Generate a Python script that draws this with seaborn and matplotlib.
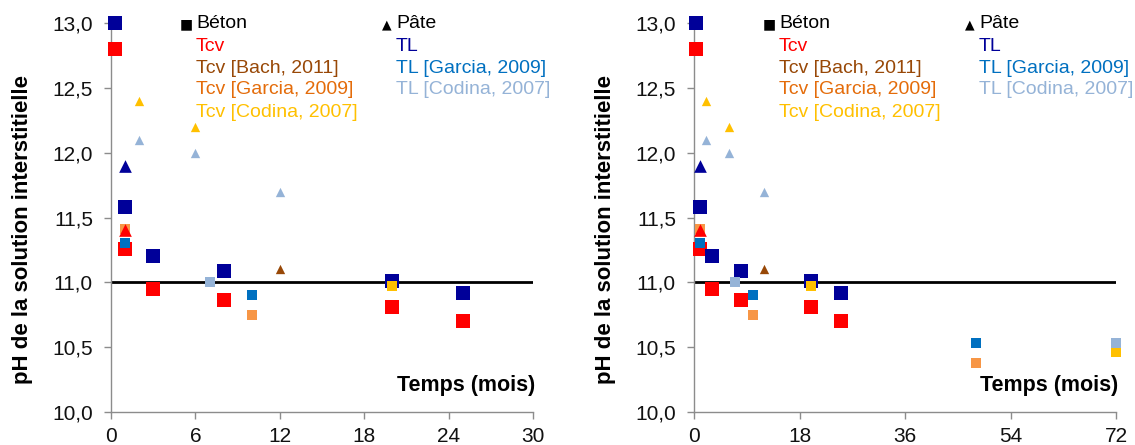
import matplotlib
matplotlib.use('Agg')
import matplotlib.pyplot as plt
import matplotlib.ticker as mticker
import seaborn as sns
import pandas as pd

# temps (mois) / pH
tcv_beton_t = [0.25, 1, 3, 8, 20, 25]
tcv_beton_ph = [12.8, 11.26, 10.95, 10.86, 10.81, 10.70]
tl_beton_t = [0.25, 1, 3, 8, 20, 25]
tl_beton_ph = [13.0, 11.58, 11.2, 11.09, 11.01, 10.92]
tcv_pate_t = [1]
tcv_pate_ph = [11.4]
tl_pate_t = [1]
tl_pate_ph = [11.9]
bach_pate_t = [12]
bach_pate_ph = [11.1]
garcia_tcv_t = [1, 10, 48]
garcia_tcv_ph = [11.41, 10.75, 10.38]
garcia_tl_t = [1, 10, 48]
garcia_tl_ph = [11.3, 10.9, 10.53]
codina_tcv_pate_t = [2, 6]
codina_tcv_pate_ph = [12.4, 12.2]
codina_tcv_beton_t = [20, 72]
codina_tcv_beton_ph = [10.97, 10.46]
codina_tl_pate_t = [2, 6, 12]
codina_tl_pate_ph = [12.1, 12.0, 11.7]
codina_tl_beton_t = [7, 72]
codina_tl_beton_ph = [11.0, 10.53]

RED = '#FF0000'
NAVY = '#000099'
BROWN = '#984807'
ORANGE_TXT = '#E46C0A'
ORANGE = '#F79646'
YELLOW = '#FFC000'
BLUE = '#0070C0'
LBLUE = '#95B3D7'

# (t, ph, marker, size, color) in drawing order
series = [
    (tcv_beton_t, tcv_beton_ph, 's', 92, RED),
    (tl_beton_t, tl_beton_ph, 's', 92, NAVY),
    (garcia_tcv_t, garcia_tcv_ph, 's', 52, ORANGE),
    (garcia_tl_t, garcia_tl_ph, 's', 52, BLUE),
    (codina_tcv_beton_t, codina_tcv_beton_ph, 's', 52, YELLOW),
    (codina_tl_beton_t, codina_tl_beton_ph, 's', 52, LBLUE),
    (tl_pate_t, tl_pate_ph, '^', 83, NAVY),
    (tcv_pate_t, tcv_pate_ph, '^', 83, RED),
    (bach_pate_t, bach_pate_ph, '^', 45, BROWN),
    (codina_tcv_pate_t, codina_tcv_pate_ph, '^', 45, YELLOW),
    (codina_tl_pate_t, codina_tl_pate_ph, '^', 45, LBLUE),
]

sns.set_style('white')
plt.rcParams['font.family'] = ['Liberation Sans', 'DejaVu Sans']
plt.rcParams['axes.unicode_minus'] = False
plt.rcParams['text.color'] = 'black'
plt.rcParams['axes.labelcolor'] = 'black'

fig = plt.figure(figsize=(11.35, 4.45), dpi=100)
ax1 = fig.add_axes([0.0978, 0.0742, 0.372, 0.874])
ax2 = fig.add_axes([0.6115, 0.0742, 0.372, 0.874])

legend_left = [('Tcv', RED), ('Tcv [Bach, 2011]', BROWN), ('Tcv [Garcia, 2009]', ORANGE_TXT),
               ('Tcv [Codina, 2007]', YELLOW)]
legend_right = [('TL', NAVY), ('TL [Garcia, 2009]', BLUE), ('TL [Codina, 2007]', LBLUE)]


def draw(ax, xmax, step):
    ax.axhline(11.0, color='black', lw=2, zorder=1)
    for t, ph, m, s, c in series:
        df = pd.DataFrame({'t': t, 'ph': ph})
        df = df[df['t'] <= xmax]
        if len(df) == 0:
            continue
        sns.scatterplot(data=df, x='t', y='ph', marker=m, s=s, color=c, linewidth=0,
                        ax=ax, clip_on=False, zorder=3)
    ax.set_xlim(0, xmax)
    ax.set_ylim(10, 13)
    ax.set_xticks(range(0, xmax + 1, step))
    ax.set_yticks([10, 10.5, 11, 11.5, 12, 12.5, 13])
    ax.yaxis.set_major_formatter(mticker.FuncFormatter(lambda v, p: f'{v:.1f}'.replace('.', ',')))
    for sp in ['top', 'right']:
        ax.spines[sp].set_visible(False)
    for sp in ['left', 'bottom']:
        ax.spines[sp].set_color('#8C8C8C')
        ax.spines[sp].set_linewidth(1)
    ax.tick_params(axis='both', direction='out', length=5, width=1, color='#8C8C8C',
                   labelsize=15, labelcolor='#111111', left=True, bottom=True)
    ax.tick_params(axis='x', pad=5.5)
    ax.tick_params(axis='y', pad=8)
    ax.set_xlabel('')
    ax.set_ylabel('pH de la solution interstitielle', fontsize=16, fontweight='bold')
    ax.yaxis.set_label_coords(-0.185, 0.468)
    ax.text(1.005, 0.069, 'Temps (mois)', transform=ax.transAxes, ha='right', va='center',
            fontsize=15.5, fontweight='bold')

    ys = [0.9864, 0.9288, 0.8722, 0.8167, 0.7591]
    ax.text(0.178, ys[0], '■', transform=ax.transAxes, ha='center', va='baseline', fontsize=10,
            family=['DejaVu Sans'])
    ax.text(0.2014, ys[0], 'Béton', transform=ax.transAxes, ha='left', va='baseline', fontsize=14)
    for (lab, c), y in zip(legend_left, ys[1:]):
        ax.text(0.2014, y, lab, transform=ax.transAxes, ha='left', va='baseline', fontsize=14, color=c)
    ax.text(0.653, ys[0], '▲', transform=ax.transAxes, ha='center', va='baseline', fontsize=9,
            family=['DejaVu Sans'])
    ax.text(0.6765, ys[0], 'Pâte', transform=ax.transAxes, ha='left', va='baseline', fontsize=14)
    for (lab, c), y in zip(legend_right, ys[1:]):
        ax.text(0.675, y, lab, transform=ax.transAxes, ha='left', va='baseline', fontsize=14, color=c)


draw(ax1, 30, 6)
draw(ax2, 72, 18)

fig.savefig('out.png', dpi=100)
